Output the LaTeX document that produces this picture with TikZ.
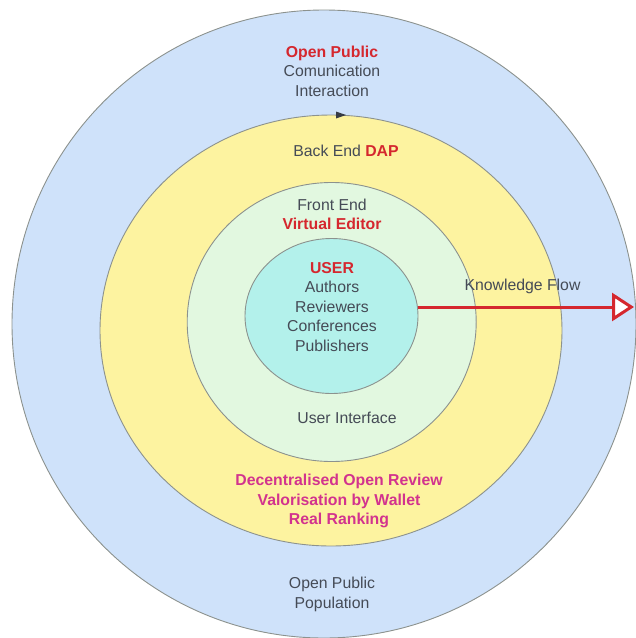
\documentclass[tikz,border=0pt]{standalone}
\usepackage{fontspec}
\setmainfont{Liberation Sans}
\usetikzlibrary{shapes.geometric,arrows.meta}
\definecolor{outerblue}{HTML}{CFE2FA}
\definecolor{backyellow}{HTML}{FDF3A0}
\definecolor{frontgreen}{HTML}{E2F8E0}
\definecolor{usercyan}{HTML}{B3F1EB}
\definecolor{rimgray}{HTML}{8C928E}
\definecolor{txtgray}{HTML}{454B56}
\definecolor{hired}{HTML}{D5272E}
\definecolor{himag}{HTML}{D2338E}
\tikzset{
  ring/.style={ellipse, draw=rimgray, line width=0.9pt, inner sep=0pt, outer sep=0pt},
  lbl/.style={text=txtgray, align=center, font=\fontsize{15.8}{19.5}\selectfont, inner sep=0pt},
  flow/.style={draw=hired, line width=3pt, -{Triangle[open, length=22pt 0 0, width=28pt 0 0, fill=white]}}
}
\begin{document}
\begin{tikzpicture}[x=1pt,y=-1pt]
\useasboundingbox (0,0) rectangle (636,638);
\begin{scope}
\clip (0,0) rectangle (636,638);
\node[ring, fill=outerblue, minimum width=624pt, minimum height=628pt] (public) at (324,324) {};
\node[ring, fill=backyellow, minimum width=462pt, minimum height=431pt] (backend) at (331,330.5) {};
\node[ring, fill=frontgreen, minimum width=289pt, minimum height=279pt] (frontend) at (331.7,322) {};
\node[ring, fill=usercyan, minimum width=173pt, minimum height=155pt] (user) at (331.5,316) {};
\end{scope}
\fill[txtgray!80!black] (336,111.5) -- (346,115) -- (336,118.5) -- cycle;
\coordinate (flowend) at (634,307);
\draw[flow] (user.east |- 0,307) -- (flowend);
\node[lbl] (ptop) at (332,71) {\textcolor{hired}{\bfseries Open Public}\\Comunication\\Interaction};
\node[lbl] (dap) at (346,151) {Back End \textcolor{hired}{\bfseries DAP}};
\node[lbl] (fe) at (332,214.5) {Front End\\\textcolor{hired}{\bfseries Virtual Editor}};
\node[lbl] (users) at (332,307) {\textcolor{hired}{\bfseries USER}\\Authors\\Reviewers\\Conferences\\Publishers};
\node[lbl] (kf) at (522.5,286.5) {Knowledge Flow};
\node[lbl] (ui) at (347,418) {User Interface};
\node[lbl, text=himag, font=\fontsize{15.8}{19.5}\selectfont\bfseries] (dor) at (339,501) {Decentralised Open Review\\Valorisation by Wallet\\Real Ranking};
\node[lbl] (pbot) at (332,594.5) {Open Public\\Population};
\end{tikzpicture}
\end{document}
